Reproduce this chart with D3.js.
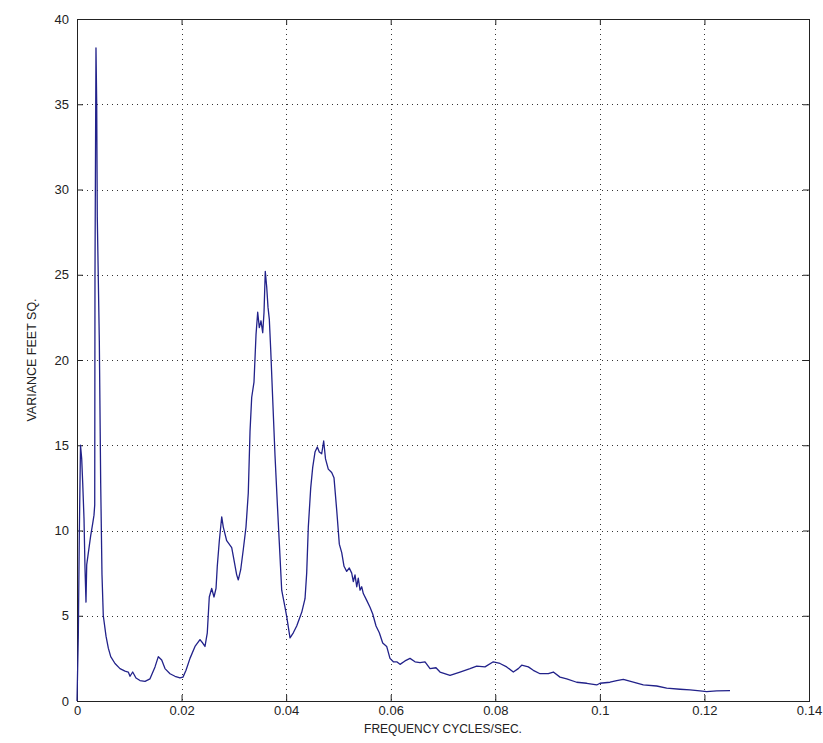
<!DOCTYPE html>
<html>
<head>
<meta charset="utf-8">
<script src="https://cdn.jsdelivr.net/npm/d3@7"></script>
<style>
  html, body { margin: 0; padding: 0; background: #ffffff; }
  svg { display: block; }
</style>
</head>
<body>
<svg id="chart" width="823" height="743"></svg>
<script>
// ---- data ----
const freq = [
  0, 0.00025, 0.00044, 0.00067, 0.0009, 0.00109, 0.00134, 0.00153, 0.00172, 0.00186,
  0.00235, 0.00262, 0.003, 0.00325, 0.00339, 0.00344, 0.00363, 0.00377, 0.00388, 0.00427,
  0.00453, 0.00478, 0.00503, 0.00555, 0.00599, 0.00645, 0.00727, 0.00822, 0.00918, 0.00981,
  0.01014, 0.01065, 0.01128, 0.01205, 0.01301, 0.01396, 0.01492, 0.01555, 0.0162, 0.01683,
  0.01779, 0.01874, 0.0197, 0.02027, 0.02085, 0.02161, 0.02257, 0.02352, 0.02404, 0.02448,
  0.02492, 0.0253, 0.02576, 0.0262, 0.02659, 0.02683, 0.02722, 0.02768, 0.02798, 0.02863,
  0.02959, 0.02989, 0.03054, 0.03085, 0.03131, 0.03181, 0.03232, 0.03276, 0.03309, 0.03341,
  0.03385, 0.03424, 0.03456, 0.03487, 0.03519, 0.03552, 0.03577, 0.03601, 0.03628, 0.03653,
  0.03678, 0.03705, 0.03743, 0.03787, 0.03831, 0.03869, 0.03915, 0.03978, 0.04011, 0.04074,
  0.04137, 0.04202, 0.04298, 0.04361, 0.04393, 0.04424, 0.0447, 0.04508, 0.04552, 0.04596,
  0.04634, 0.0468, 0.04718, 0.04753, 0.04806, 0.04871, 0.04915, 0.04967, 0.05017, 0.05063,
  0.05107, 0.05158, 0.05208, 0.05254, 0.05285, 0.05317, 0.0535, 0.0538, 0.05413, 0.05445,
  0.05476, 0.05541, 0.05604, 0.05656, 0.05719, 0.05782, 0.05847, 0.05923, 0.05986, 0.0605,
  0.06115, 0.06178, 0.06273, 0.06369, 0.06465, 0.0656, 0.06656, 0.06752, 0.06866, 0.06943,
  0.07134, 0.07325, 0.07517, 0.07645, 0.07803, 0.07962, 0.0809, 0.08218, 0.08345, 0.0844,
  0.08505, 0.08632, 0.08727, 0.08856, 0.09014, 0.0911, 0.09238, 0.09366, 0.09557, 0.09749,
  0.0994, 0.10003, 0.10194, 0.10322, 0.10449, 0.1064, 0.10831, 0.11087, 0.11278, 0.11533,
  0.11724, 0.11915, 0.12044, 0.12235, 0.12489
];
const variance = [
  0, 3.8, 9.7, 15.0, 14.2, 12.8, 10.7, 7.8, 5.8, 8.0,
  9.1, 9.7, 10.4, 10.9, 11.5, 25.0, 38.3, 35.0, 28.4, 21.1,
  12.8, 7.4, 5.0, 3.8, 3.1, 2.6, 2.2, 1.9, 1.75, 1.7,
  1.45, 1.7, 1.35, 1.2, 1.15, 1.3, 2.0, 2.6, 2.4, 1.9,
  1.6, 1.45, 1.35, 1.4, 1.8, 2.5, 3.2, 3.6, 3.4, 3.2,
  4.0, 6.1, 6.6, 6.1, 6.6, 7.9, 9.4, 10.8, 10.2, 9.4,
  9.0, 8.5, 7.4, 7.1, 7.7, 8.9, 10.2, 12.2, 15.8, 17.8,
  18.7, 21.5, 22.8, 21.9, 22.3, 21.6, 22.8, 25.2, 24.3, 23.1,
  22.4, 20.6, 17.7, 14.4, 11.6, 9.3, 6.5, 5.5, 4.95, 3.7,
  4.0, 4.4, 5.2, 6.0, 7.5, 10.2, 12.5, 13.7, 14.6, 14.9,
  14.6, 14.5, 15.25, 14.2, 13.6, 13.4, 13.1, 11.2, 9.2, 8.7,
  7.9, 7.6, 7.8, 7.5, 7.0, 7.4, 6.7, 7.2, 6.5, 6.7,
  6.3, 5.9, 5.5, 5.1, 4.4, 4.0, 3.4, 3.2, 2.5, 2.3,
  2.3, 2.15, 2.35, 2.5, 2.3, 2.25, 2.3, 1.9, 1.95, 1.7,
  1.5, 1.7, 1.9, 2.05, 2.0, 2.3, 2.2, 2.0, 1.7, 1.9,
  2.1, 2.0, 1.8, 1.6, 1.6, 1.7, 1.4, 1.3, 1.1, 1.04,
  0.94, 1.04, 1.1, 1.2, 1.27, 1.1, 0.94, 0.88, 0.75, 0.69,
  0.65, 0.59, 0.55, 0.59, 0.61
];
const xTicks = [0, 0.02, 0.04, 0.06, 0.08, 0.1, 0.12, 0.14];
const xTickLabels = ["0", "0.02", "0.04", "0.06", "0.08", "0.1", "0.12", "0.14"];
const yTicks = [0, 5, 10, 15, 20, 25, 30, 35, 40];
const yTickLabels = ["0", "5", "10", "15", "20", "25", "30", "35", "40"];
const xTitle = "FREQUENCY CYCLES/SEC.";
const yTitle = "VARIANCE FEET SQ.";

// ---- layout ----
const L = 77, R = 809, T = 19, B = 701;
const svg = d3.select("#chart");
const x = d3.scaleLinear().domain([0, 0.14]).range([L, R]);
const y = d3.scaleLinear().domain([0, 40]).range([B, T]);
const font = "Arial, 'Liberation Sans', Helvetica, sans-serif";
const tickLen = 6;

// grid
const grid = svg.append("g").attr("stroke", "#333").attr("stroke-width", 1)
  .attr("stroke-dasharray", "1,4").attr("shape-rendering", "crispEdges");
grid.selectAll("line.gx").data(xTicks.slice(1, -1)).join("line")
  .attr("x1", d => Math.round(x(d)) + 0.5).attr("x2", d => Math.round(x(d)) + 0.5)
  .attr("y1", T).attr("y2", B);
grid.selectAll("line.gy").data(yTicks.slice(1, -1)).join("line")
  .attr("y1", d => Math.round(y(d)) + 0.5).attr("y2", d => Math.round(y(d)) + 0.5)
  .attr("x1", L).attr("x2", R);

// axes (inner ticks, MATLAB style)
const xAxisB = d3.axisBottom(x).tickValues(xTicks).tickSize(-tickLen).tickFormat((d, i) => xTickLabels[i]).tickPadding(5);
const xAxisT = d3.axisTop(x).tickValues(xTicks).tickSize(-tickLen).tickFormat("");
const yAxisL = d3.axisLeft(y).tickValues(yTicks).tickSize(-tickLen).tickFormat((d, i) => yTickLabels[i]).tickPadding(8);
const yAxisR = d3.axisRight(y).tickValues(yTicks).tickSize(-tickLen).tickFormat("");

function styleAxis(g) {
  g.select(".domain").remove();
  g.selectAll(".tick line").attr("stroke", "#222");
  g.selectAll(".tick text").attr("fill", "#222").style("font-family", font).style("font-size", "13px");
}
svg.append("g").attr("transform", `translate(0,${B})`).call(xAxisB).call(styleAxis);
svg.append("g").attr("transform", `translate(0,${T})`).call(xAxisT).call(styleAxis);
svg.append("g").attr("transform", `translate(${L},0)`).call(yAxisL).call(styleAxis);
svg.append("g").attr("transform", `translate(${R},0)`).call(yAxisR).call(styleAxis);

// frame
svg.append("rect").attr("x", L + 0.5).attr("y", T + 0.5).attr("width", R - L).attr("height", B - T)
  .attr("fill", "none").attr("stroke", "#222").attr("stroke-width", 1).attr("shape-rendering", "crispEdges");

// data line
const pts = freq.map((f, i) => [f, variance[i]]);
const line = d3.line().x(d => x(d[0])).y(d => y(d[1]));
svg.append("path").datum(pts).attr("d", line)
  .attr("fill", "none").attr("stroke", "#22228a").attr("stroke-width", 1.3).attr("stroke-linejoin", "round");

// titles
svg.append("text").attr("x", (L + R) / 2).attr("y", 733).attr("text-anchor", "middle")
  .style("font-family", font).style("font-size", "12px").attr("fill", "#222").text(xTitle);
svg.append("text").attr("transform", `translate(36,${(T + B) / 2}) rotate(-90)`).attr("text-anchor", "middle")
  .style("font-family", font).style("font-size", "12.5px").attr("fill", "#222").text(yTitle);
</script>
</body>
</html>
